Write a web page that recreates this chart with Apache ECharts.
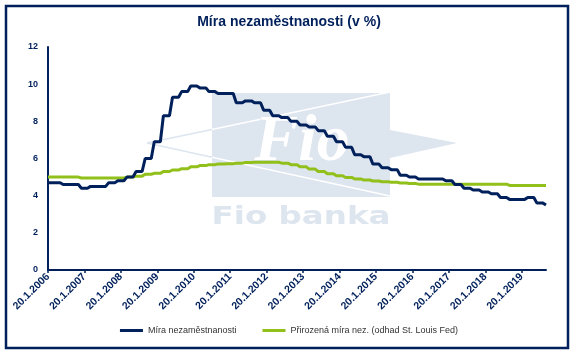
<!DOCTYPE html>
<html><head><meta charset="utf-8">
<script src="https://cdn.jsdelivr.net/npm/echarts@6/dist/echarts.min.js"></script>
<style>html,body{margin:0;padding:0;background:#fff}#c{width:578px;height:354px}</style>
</head><body><div id="c"></div>
<script>
// monthly observations, Jan 2006 .. Sep 2019 (x labels "20.M.YYYY")
const startYear = 2006;
const monthCount = 165;
const categories = [];
for (let i = 0; i < monthCount; i++) {
  categories.push('20.' + (i % 12 + 1) + '.' + (startYear + Math.floor(i / 12)));
}

const seriesNames = ['Míra nezaměstnanosti', 'Přirozená míra nez. (odhad St. Louis Fed)'];

const unemployment = [
  4.7,4.7,4.7,4.7,4.7,4.6,4.6,4.6,4.6,4.6,4.6,4.4,   // 2006
  4.4,4.4,4.5,4.5,4.5,4.5,4.5,4.5,4.7,4.7,4.7,4.8,   // 2007
  4.8,4.8,5.0,5.0,5.0,5.3,5.3,5.3,6.0,6.0,6.0,6.9,   // 2008
  6.9,6.9,8.3,8.3,8.3,9.3,9.3,9.3,9.6,9.6,9.6,9.9,   // 2009
  9.9,9.9,9.8,9.8,9.8,9.6,9.6,9.6,9.5,9.5,9.5,9.5,   // 2010
  9.5,9.5,9.0,9.0,9.0,9.1,9.1,9.1,9.0,9.0,9.0,8.6,   // 2011
  8.6,8.6,8.3,8.3,8.3,8.2,8.2,8.2,8.0,8.0,8.0,7.8,   // 2012
  7.8,7.8,7.7,7.7,7.7,7.5,7.5,7.5,7.2,7.2,7.2,6.9,   // 2013
  6.9,6.9,6.6,6.6,6.6,6.2,6.2,6.2,6.1,6.1,6.1,5.7,   // 2014
  5.7,5.7,5.5,5.5,5.5,5.4,5.4,5.4,5.1,5.1,5.1,5.0,   // 2015
  5.0,5.0,4.9,4.9,4.9,4.9,4.9,4.9,4.9,4.9,4.9,4.8,   // 2016
  4.8,4.8,4.6,4.6,4.6,4.4,4.4,4.4,4.3,4.3,4.3,4.2,   // 2017
  4.2,4.2,4.1,4.1,4.1,3.9,3.9,3.9,3.8,3.8,3.8,3.8,   // 2018
  3.8,3.8,3.9,3.9,3.9,3.6,3.6,3.6,3.5                // 2019
];

const naturalRate = [
  5.0,5.0,5.0,5.0,5.0,5.0,5.0,5.0,5.0,5.0,5.0,4.95,            // 2006
  4.95,4.95,4.95,4.95,4.95,4.95,4.95,4.95,4.95,4.95,4.95,4.95, // 2007
  4.95,4.95,5.0,5.0,5.0,5.05,5.05,5.05,5.15,5.15,5.15,5.2,     // 2008
  5.2,5.2,5.3,5.3,5.3,5.38,5.38,5.38,5.45,5.45,5.45,5.55,      // 2009
  5.55,5.55,5.62,5.62,5.62,5.67,5.67,5.67,5.7,5.7,5.7,5.72,    // 2010
  5.72,5.72,5.75,5.75,5.75,5.78,5.78,5.78,5.8,5.8,5.8,5.8,     // 2011
  5.8,5.8,5.8,5.8,5.8,5.75,5.75,5.75,5.67,5.67,5.67,5.56,      // 2012
  5.56,5.56,5.43,5.43,5.43,5.3,5.3,5.3,5.18,5.18,5.18,5.07,    // 2013
  5.07,5.07,4.98,4.98,4.98,4.9,4.9,4.9,4.84,4.84,4.84,4.79,    // 2014
  4.79,4.79,4.75,4.75,4.75,4.72,4.72,4.72,4.68,4.68,4.68,4.65, // 2015
  4.65,4.65,4.62,4.62,4.62,4.62,4.62,4.62,4.62,4.62,4.62,4.62, // 2016
  4.62,4.62,4.62,4.62,4.62,4.62,4.62,4.62,4.62,4.62,4.62,4.62, // 2017
  4.62,4.62,4.62,4.62,4.62,4.62,4.62,4.62,4.55,4.55,4.55,4.55, // 2018
  4.55,4.55,4.55,4.55,4.55,4.55,4.55,4.55,4.55                 // 2019
];

const yTicks = { min: 0, max: 12, interval: 2 };

const NAVY = '#00205b';
const GREEN = '#92c01a';
const WM = '#dde5ef';

const chart = echarts.init(document.getElementById('c'), null, { renderer: 'canvas' });
chart.setOption({
  animation: false,
  backgroundColor: '#fff',
  title: {
    text: 'Míra nezaměstnanosti (v %)',
    left: 'center', top: 10,
    textStyle: { color: NAVY, fontSize: 14, fontWeight: 'bold', fontFamily: 'Liberation Sans' }
  },
  legend: {
    bottom: 14, left: 'center',
    icon: 'rect', itemWidth: 23, itemHeight: 3, itemGap: 26,
    textStyle: { color: '#333', fontSize: 9, fontFamily: 'Liberation Sans' },
    data: seriesNames
  },
  grid: { left: 48, right: 32, top: 47, bottom: 84, containLabel: false },
  graphic: [
    { type: 'rect', z: -10, silent: true, shape: { x: 212, y: 93, width: 178, height: 104 }, style: { fill: WM } },
    { type: 'polygon', z: -10, silent: true, shape: { points: [[390,130],[457,143],[390,158]] }, style: { fill: WM } },
    { type: 'line', z: -9, silent: true, shape: { x1: 147, y1: 143, x2: 212, y2: 129.4 }, style: { stroke: WM, lineWidth: 1.5 } },
    { type: 'line', z: -9, silent: true, shape: { x1: 147, y1: 143, x2: 212, y2: 157.2 }, style: { stroke: WM, lineWidth: 1.5 } },
    { type: 'line', z: -9, silent: true, shape: { x1: 212, y1: 129.4, x2: 390, y2: 92 }, style: { stroke: '#fff', lineWidth: 1.5 } },
    { type: 'line', z: -9, silent: true, shape: { x1: 212, y1: 157.2, x2: 390, y2: 196 }, style: { stroke: '#fff', lineWidth: 1.5 } },
    { type: 'text', z: -8, silent: true, x: 302, y: 143,
      style: { text: 'Fio', fill: '#fff', stroke: WM, lineWidth: 1, font: 'italic bold 66px "Liberation Serif"', align: 'center', verticalAlign: 'middle' } },
    { type: 'text', z: -8, silent: true, x: 301, y: 217, scaleX: 1.3, originX: 0, originY: 0,
      style: { text: 'Fio banka', fill: WM, font: 'bold 25px "DejaVu Sans"', align: 'center', verticalAlign: 'middle' } },
    { type: 'rect', z: 100, silent: true, shape: { x: 6, y: 6, width: 562, height: 342 }, style: { fill: 'none', stroke: NAVY, lineWidth: 2.5 } }
  ],
  xAxis: {
    type: 'category',
    data: categories,
    boundaryGap: false,
    axisLine: { show: true, lineStyle: { color: NAVY, width: 2 } },
    axisTick: { show: true, interval: 11, length: 3, lineStyle: { color: NAVY, width: 1.5 } },
    axisLabel: { interval: 11, rotate: 45, margin: 5, color: NAVY, fontSize: 10.5, fontWeight: 'bold', fontFamily: 'Liberation Sans' },
    splitLine: { show: false }
  },
  yAxis: {
    type: 'value',
    min: yTicks.min, max: yTicks.max, interval: yTicks.interval,
    axisLine: { show: true, lineStyle: { color: NAVY, width: 2 } },
    axisTick: { show: false },
    axisLabel: { color: NAVY, fontSize: 9, fontWeight: 'bold', margin: 10, fontFamily: 'Liberation Sans' },
    splitLine: { show: false }
  },
  series: [
    { name: seriesNames[0], type: 'line', data: unemployment, symbol: 'none', color: NAVY, lineStyle: { color: NAVY, width: 3 }, z: 3 },
    { name: seriesNames[1], type: 'line', data: naturalRate, symbol: 'none', color: GREEN, lineStyle: { color: GREEN, width: 3 }, z: 2 }
  ]
});
</script>
</body></html>
